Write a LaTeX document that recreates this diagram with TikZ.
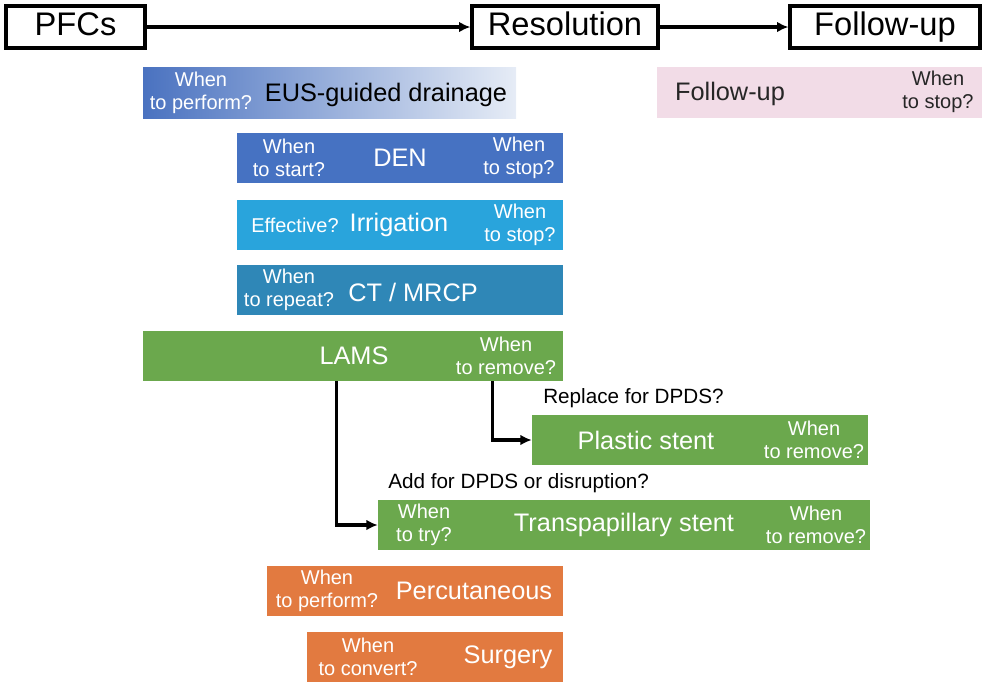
\documentclass[tikz,border=0pt]{standalone}
\usepackage{fontspec}
\setmainfont{Liberation Sans}
\usetikzlibrary{arrows.meta, positioning, fit}

\definecolor{eusblue}{HTML}{4A72C0}
\definecolor{euslight}{HTML}{E6ECF6}
\definecolor{denblue}{HTML}{4672C2}
\definecolor{irrblue}{HTML}{29A4DC}
\definecolor{ctblue}{HTML}{2F87B7}
\definecolor{lamsgreen}{HTML}{6BA84D}
\definecolor{percorange}{HTML}{E27A40}
\definecolor{fupink}{HTML}{F2DCE7}

\begin{document}
\begin{tikzpicture}[
    x=0.75pt, y=-0.75pt,
    stage/.style={rectangle, draw=black, line width=2.4pt, inner sep=0pt, minimum height=31.5pt, text height=17.5pt, text depth=4.5pt, font=\fontsize{24.5}{28}\selectfont},
    bar/.style={rectangle, draw=none, inner sep=0pt},
    mainlbl/.style={text=white, inner sep=0pt, font=\fontsize{19}{22}\selectfont},
    sublbl/.style={text=white, align=center, inner sep=0pt, font=\fontsize{15}{17.3}\selectfont},
    note/.style={anchor=west, inner sep=0pt, font=\fontsize{15.5}{18}\selectfont},
    arrow/.style={-{Latex[length=8.5pt,width=8pt]}, line width=2.4pt}
]
    \useasboundingbox (0,0) rectangle (982,683);

    % Stage headers
    \node[stage, minimum width=104.25pt] (pfcs) at (75.5,27) {PFCs};
    \node[stage, minimum width=139.5pt] (res) at (565,27) {Resolution};
    \node[stage, minimum width=142.5pt] (fup) at (885,27) {Follow-up};

    \draw[arrow] (pfcs) -- (res);
    \draw[arrow] (res) -- (fup);

    % Drainage and adjuncts
    \node[bar, left color=eusblue, right color=euslight, fit={(143,67) (516,118)}] (eus) {};
    \node[sublbl] (eus-when) at (201,93) {When\\to perform?};
    \node[mainlbl, text=black] (eus-txt) at (386,95) {EUS-guided drainage};

    \node[bar, fill=fupink, fit={(657,67) (982,118)}] (fubar) {};
    \node[mainlbl, text=black!85] (fu-txt) at (730,94) {Follow-up};
    \node[sublbl, text=black!85] (fu-stop) at (938,92) {When\\to stop?};

    \node[bar, fill=denblue, fit={(237,133) (563,183)}] (den) {};
    \node[sublbl] (den-start) at (289,158) {When\\to start?};
    \node[mainlbl] (den-txt) at (400,158) {DEN};
    \node[sublbl] (den-stop) at (519,158) {When\\to stop?};

    \node[bar, fill=irrblue, fit={(237,200) (563,250)}] (irr) {};
    \node[sublbl] (irr-eff) at (295,225) {Effective?};
    \node[mainlbl] (irr-txt) at (399,225) {Irrigation};
    \node[sublbl] (irr-stop) at (520,225) {When\\to stop?};

    \node[bar, fill=ctblue, fit={(237,265) (563,315)}] (ct) {};
    \node[sublbl] (ct-when) at (289,290) {When\\to repeat?};
    \node[mainlbl] (ct-txt) at (413,292) {CT / MRCP};

    % Stents
    \node[bar, fill=lamsgreen, fit={(143,331) (563,381)}] (lams) {};
    \node[mainlbl] (lams-txt) at (354,356) {LAMS};
    \node[sublbl] (lams-rm) at (506,356) {When\\to remove?};

    \node[bar, fill=lamsgreen, fit={(532,415) (868,465)}] (plastic) {};
    \node[mainlbl] (plastic-txt) at (646,440) {Plastic stent};
    \node[sublbl] (plastic-rm) at (814,440) {When\\to remove?};
    \node[note] (replace) at (543,398) {Replace for DPDS?};

    \node[bar, fill=lamsgreen, fit={(378,500) (870,550)}] (tps) {};
    \node[sublbl] (tps-try) at (424,525) {When\\to try?};
    \node[mainlbl] (tps-txt) at (624,525) {Transpapillary stent};
    \node[sublbl] (tps-rm) at (816,525) {When\\to remove?};
    \node[note] (add) at (388,483) {Add for DPDS or disruption?};

    \draw[arrow] ([xshift=145.5pt]lams.south west) |- (tps.west);
    \draw[arrow] ([xshift=262.5pt]lams.south west) |- (plastic.west);

    % Rescue options
    \node[bar, fill=percorange, fit={(267,566) (563,616)}] (perc) {};
    \node[sublbl] (perc-when) at (327,591) {When\\to perform?};
    \node[mainlbl] (perc-txt) at (474,591) {Percutaneous};

    \node[bar, fill=percorange, fit={(307,632) (563,682)}] (surg) {};
    \node[sublbl] (surg-when) at (368,657) {When\\to convert?};
    \node[mainlbl] (surg-txt) at (508,657) {Surgery};
\end{tikzpicture}
\end{document}
